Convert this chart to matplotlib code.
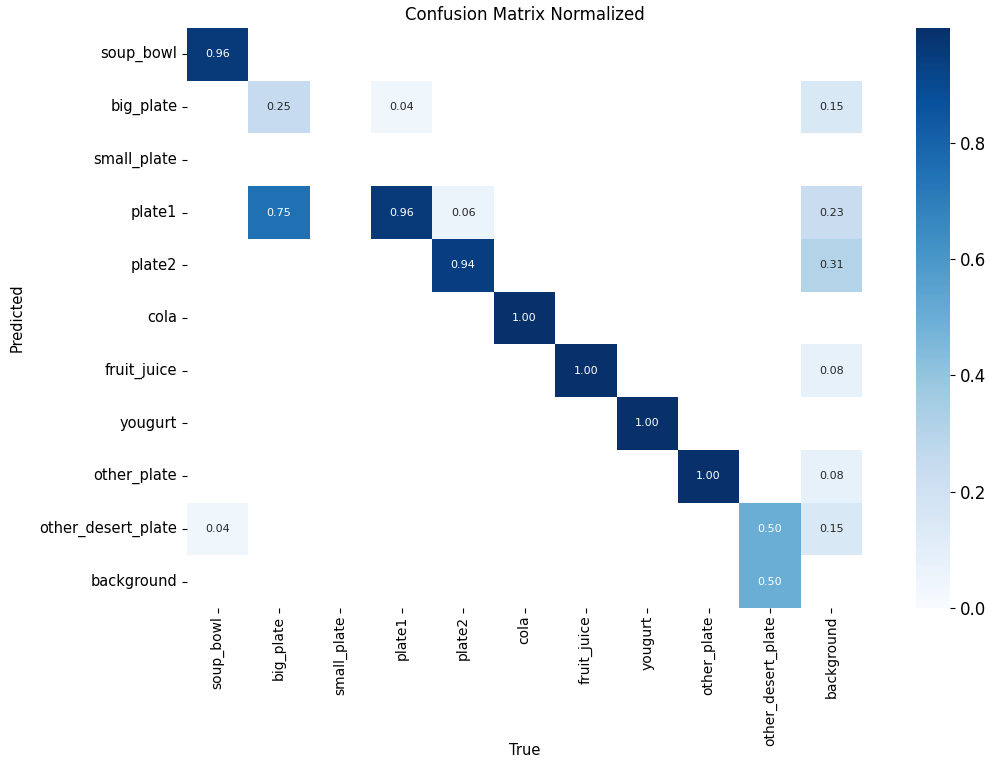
import numpy as np
import matplotlib
matplotlib.use("Agg")
import matplotlib.pyplot as plt
import seaborn as sns


names = ["soup_bowl", "big_plate", "small_plate", "plate1", "plate2", "cola",
         "fruit_juice", "yougurt", "other_plate", "other_desert_plate", "background"]

# rows = predicted, columns = true (nan = empty cell)
n = np.nan
row_soup_bowl = [0.96, n, n, n, n, n, n, n, n, n, n]
row_big_plate = [n, 0.25, n, 0.04, n, n, n, n, n, n, 0.15]
row_small_plate = [n, n, n, n, n, n, n, n, n, n, n]
row_plate1 = [n, 0.75, n, 0.96, 0.06, n, n, n, n, n, 0.23]
row_plate2 = [n, n, n, n, 0.94, n, n, n, n, n, 0.31]
row_cola = [n, n, n, n, n, 1.00, n, n, n, n, n]
row_fruit_juice = [n, n, n, n, n, n, 1.00, n, n, n, 0.08]
row_yougurt = [n, n, n, n, n, n, n, 1.00, n, n, n]
row_other_plate = [n, n, n, n, n, n, n, n, 1.00, n, 0.08]
row_other_desert_plate = [0.04, n, n, n, n, n, n, n, n, 0.50, 0.15]
row_background = [n, n, n, n, n, n, n, n, n, 0.50, n]

matrix = np.array([row_soup_bowl, row_big_plate, row_small_plate, row_plate1,
                   row_plate2, row_cola, row_fruit_juice, row_yougurt,
                   row_other_plate, row_other_desert_plate, row_background])

fig = plt.figure(figsize=(9.9, 7.6), dpi=100)
ax = fig.add_axes([0.1889, 0.2, 0.6818, 0.7632])
cax = fig.add_axes([0.925, 0.2, 0.0343, 0.7632])

sns.heatmap(matrix, ax=ax, cbar_ax=cax, annot=True, annot_kws={"size": 8},
            cmap="Blues", fmt=".2f", vmin=0.0, vmax=0.997,
            xticklabels=names, yticklabels=names).set_facecolor((1, 1, 1))

ax.tick_params(axis="x", labelsize=10, pad=2)
ax.tick_params(axis="y", labelsize=10.5)
plt.setp(ax.get_xticklabels(), rotation=90)
plt.setp(ax.get_yticklabels(), rotation=0)
cax.tick_params(labelsize=12)

ax.set_title("Confusion Matrix Normalized", fontsize=12)
ax.set_xlabel("True", fontsize=10.5)
ax.set_ylabel("Predicted", fontsize=10.5)
ax.xaxis.set_label_coords(0.5, -0.233)
ax.yaxis.set_label_coords(-0.24, 0.5)

fig.savefig("out.png", dpi=100)
